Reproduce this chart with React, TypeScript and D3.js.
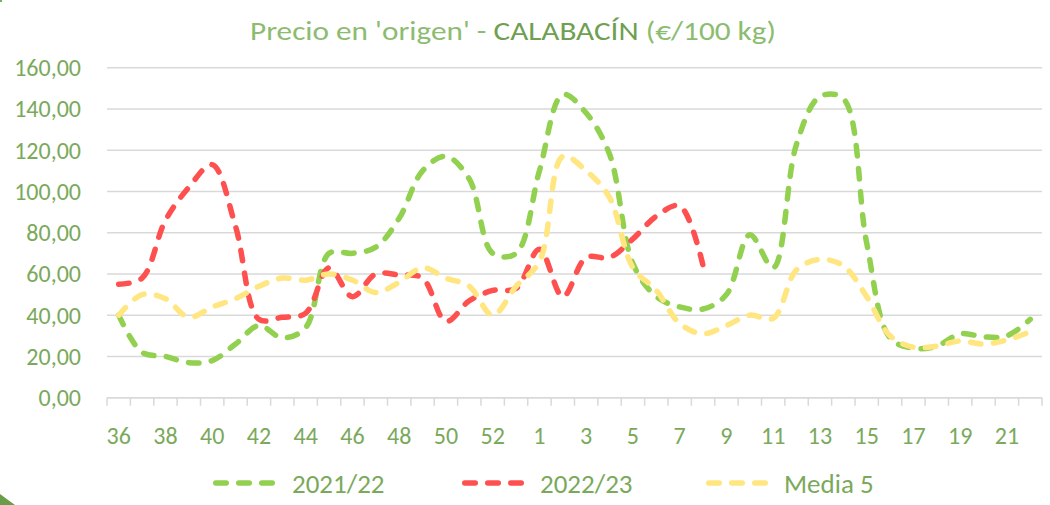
import React from "react";
import * as d3 from "d3";

const weeks = [
  "36","37","38","39","40","41","42","43","44","45","46","47","48","49","50","51","52","53",
  "1","2","3","4","5","6","7","8","9","10","11","12","13","14","15","16","17","18","19","20","21","22",
];

const s2122 = [40,22,20,17,18,26,35,29,34,70, 70,73,87,110,117,106,70,70,
  110,147,138,118,65,49,44,43,50,79,63,123,146,145,75,29,24,25,31,29.5,30,38];

const s2223: (number | null)[] = [55,58,86,102,113,83,38,39,41,63, 49,60,59.5,58,37,47,52,53,
  72,49,68,68,77,88,93,64, null,null,null,null,null,null,null,null,null,null,null,null,null,null];

const media5 = [40,50,48,39,44,48,54,58,57,60, 57,51,56,63,58,54,40,54,
  66,117,110,97,63,52,36,31,35,40,38.5,62,67,64,49,30,24.5,25,27.5,26,28,32];

const yTicks = [0,20,40,60,80,100,120,140,160];

const seriesNames = ["2021/22","2022/23","Media 5"];
const seriesColors = ["#92d050","#ff5050","#ffe680"];

const W = 1050, H = 505;
const left = 107, right = 1042, top = 67.7, bottom = 397.7;
const FONT = "Carlito, Lato, 'Open Sans', sans-serif";
const TXT = "#7aa95c";

export default function App() {
  const x = d3.scaleBand<string>().domain(weeks).range([left, right]).paddingInner(0).paddingOuter(0);
  const y = d3.scaleLinear().domain([0, 160]).range([bottom, top]);
  const cx = (i: number) => (x(weeks[i]) as number) + x.bandwidth() / 2;

  const line = d3.line<number | null>()
    .defined((d) => d != null)
    .x((_, i) => cx(i))
    .y((d) => y(d as number))
    .curve(d3.curveCatmullRom.alpha(0.5));

  const data = [s2122, s2223, media5];
  const dash = "10.5 12.5";
  const sw = 5.5;

  const tickXs = weeks.map((w) => x(w) as number).concat([right]);

  const legendItems = [
    { x0: 213, tx: 292 },
    { x0: 462, tx: 540 },
    { x0: 706, tx: 784 },
  ];

  return (
    <svg width={W} height={H} style={{ position: "absolute", left: 0, top: 0, background: "#fff" }}>
      {/* corner decorations */}
      <path d="M0,494 Q8,500 15,505 L0,505 Z" fill="#6a9c4a" />
      <rect x={0} y={0} width={2} height={2} fill="#7ab05a" />

      {/* title */}
      <text x={513} y={39.5} textAnchor="middle" fontFamily={FONT} fontSize={27} fontWeight={300}
        textLength={526} lengthAdjust="spacingAndGlyphs">
        <tspan fill="#8cbc70">Precio en 'origen' - </tspan>
        <tspan fill="#6f9f52">CALABACÍN</tspan>
        <tspan fill="#8cbc70"> (€/100 kg)</tspan>
      </text>

      {/* gridlines */}
      {yTicks.map((t) => (
        <line key={t} x1={left} x2={right} y1={y(t)} y2={y(t)} stroke="#d9d9d9" strokeWidth={1.5} />
      ))}
      {yTicks.map((t) => (
        <text key={"l" + t} x={81} y={y(t)} dy="0.35em" textAnchor="end" fill={TXT}
          fontFamily={FONT} fontSize={24}>
          {d3.format(".2f")(t).replace(".", ",")}
        </text>
      ))}

      {/* x axis */}
      <line x1={left} x2={right} y1={bottom} y2={bottom} stroke="#d9d9d9" strokeWidth={1.5} />
      {tickXs.map((tx, i) => (
        <line key={"t" + i} x1={tx} x2={tx} y1={bottom} y2={bottom + 8} stroke="#d9d9d9" strokeWidth={1.5} />
      ))}
      {weeks.map((w, i) =>
        i % 2 === 0 ? (
          <text key={"x" + w} x={cx(i)} y={443.5} textAnchor="middle" fill={TXT} fontFamily={FONT} fontSize={24}>
            {w}
          </text>
        ) : null
      )}

      {/* series */}
      {data.map((d, k) => (
        <path key={k} d={line(d) || ""} fill="none" stroke={seriesColors[k]} strokeWidth={sw}
          strokeDasharray={dash} strokeLinecap="round" strokeLinejoin="round" />
      ))}

      {/* legend */}
      {legendItems.map((it, k) => (
        <g key={"lg" + k}>
          <line x1={it.x0 + sw / 2} x2={it.x0 + 66 - sw / 2} y1={483} y2={483} stroke={seriesColors[k]}
            strokeWidth={sw} strokeDasharray={dash} strokeLinecap="round" />
          <text x={it.tx} y={493} fill={TXT} fontFamily={FONT} fontSize={27}>{seriesNames[k]}</text>
        </g>
      ))}
    </svg>
  );
}
